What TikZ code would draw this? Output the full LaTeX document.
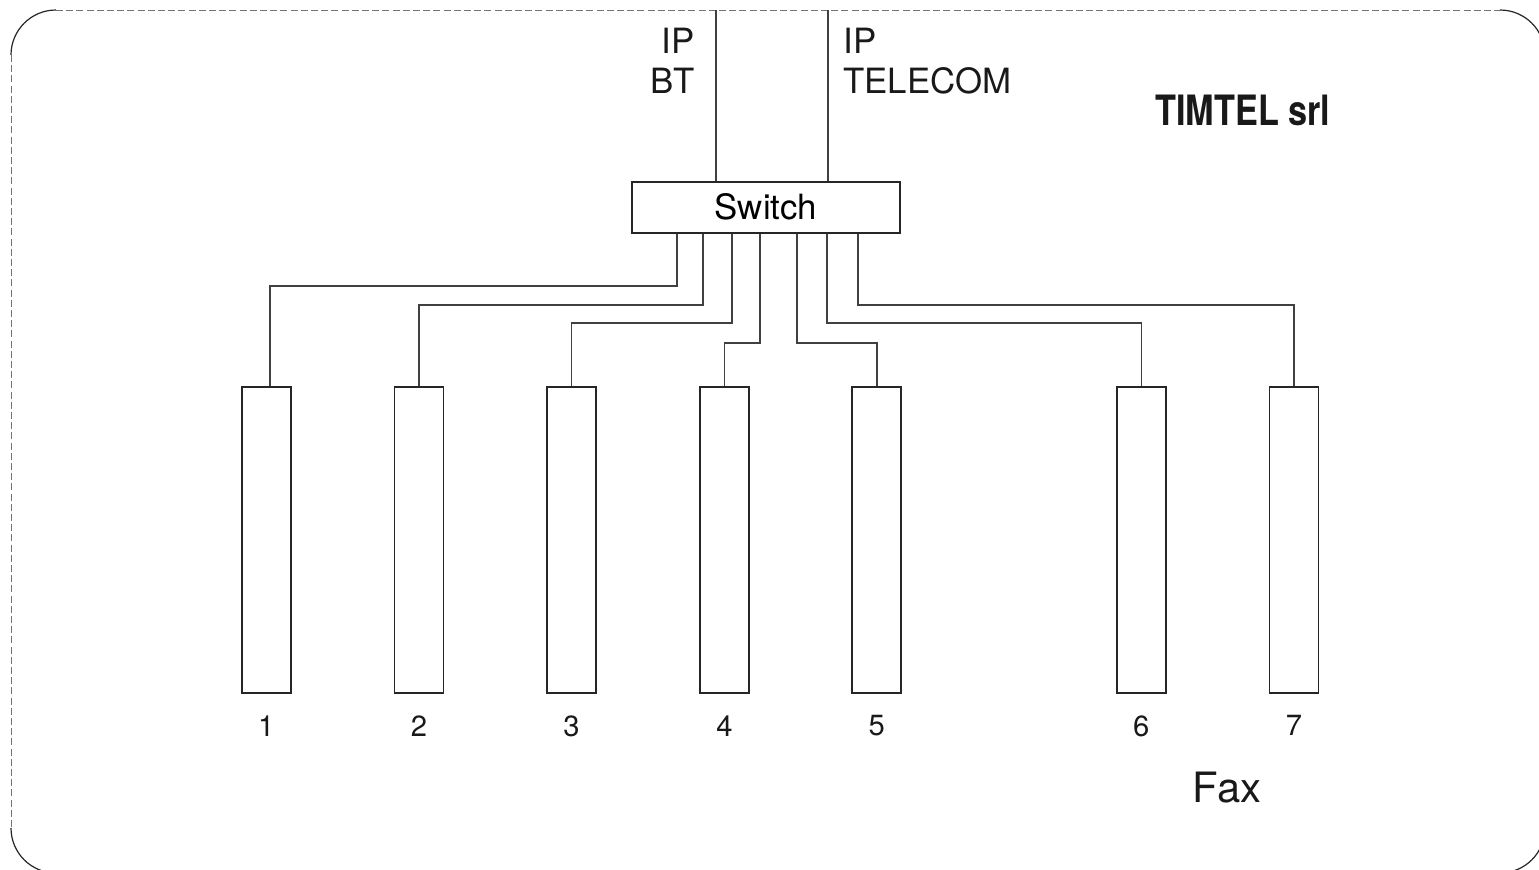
\documentclass[tikz,border=0pt]{standalone}
\usepackage{fontspec}
\setmainfont{TeX Gyre Heros}
\usepackage{graphicx}
\usetikzlibrary{positioning}
\tikzset{
  frameline/.style={draw=black!55, line width=0.5pt, dash pattern=on 3.5pt off 1.6pt},
  framecorner/.style={draw=black!85, line width=0.6pt},
  wire/.style={draw=black!75, line width=0.6pt},
  unit/.style={draw=black!85, line width=0.9pt, minimum width=24.5pt, minimum height=153pt, inner sep=0pt},
  switchbox/.style={draw=black!85, line width=0.9pt, minimum width=134pt, minimum height=25.5pt, inner sep=0pt,
    font=\fontsize{17.4}{20}\selectfont},
  numlabel/.style={inner sep=0pt, font=\fontsize{14.6}{17}\selectfont, text=black!90},
  iplabel/.style={inner sep=0pt, font=\fontsize{17.4}{20}\selectfont, text=black!90}
}
\begin{document}
\begin{tikzpicture}[x=0.5pt,y=-0.5pt]
  \clip (0,0) rectangle (1539,869);
  % frame
  \draw[frameline] (11,55) -- (11,828);
  \draw[frameline] (56,10) -- (1500,10);
  \draw[frameline] (1545,55) -- (1545,828);
  \draw[frameline] (56,873) -- (1500,873);
  \draw[framecorner] (11,55) arc[start angle=180, end angle=90, radius=22.5pt];
  \draw[framecorner] (1500,10) arc[start angle=90, end angle=0, radius=22.5pt];
  \draw[framecorner] (11,828) arc[start angle=180, end angle=270, radius=22.5pt];
  \draw[framecorner] (1545,828) arc[start angle=0, end angle=-90, radius=22.5pt];

  \node[switchbox] (sw) at (766,207.5) {\raisebox{1.5pt}{Switch}};

  \coordinate (bt) at (716,10);
  \coordinate (tel) at (828,10);
  \draw[wire] (bt) -- (sw.north -| bt);
  \draw[wire] (tel) -- (sw.north -| tel);
  \node[iplabel, anchor=north east, align=right] (btlabel) at (695,28) {IP\\BT};
  \node[iplabel, anchor=north west, align=left] (tellabel) at (843,28) {IP\\TELECOM};

  \node[anchor=base west, inner sep=0pt, font=\bfseries\fontsize{20.9}{24}\selectfont, text=black!90]
    (firm) at (1155,125) {\scalebox{0.82}[1]{TIMTEL srl}};

  % units
  \foreach \n/\cx in {1/266.3, 2/419, 3/571.5, 4/724.5, 5/876.7, 6/1141.2, 7/1294}{
    \node[unit] (u\n) at (\cx,540) {};
    \node[numlabel, below=10.5pt of u\n] (n\n) {\n};
  }

  \foreach \n/\px/\ly/\ux in {1/677/286/270, 2/703/305/419, 3/732/323/571.5, 4/760/343/724.5,
                             5/797/343/877, 6/827/323/1141.2, 7/858/305/1294}{
    \draw[wire] (sw.south -| \px,0) -- (\px,\ly) -| (u\n.north -| \ux,0);
  }

  \node[anchor=base, inner sep=0pt, font=\fontsize{20.9}{24}\selectfont, text=black!90] (fax) at (1227,802) {Fax};
\end{tikzpicture}
\end{document}
